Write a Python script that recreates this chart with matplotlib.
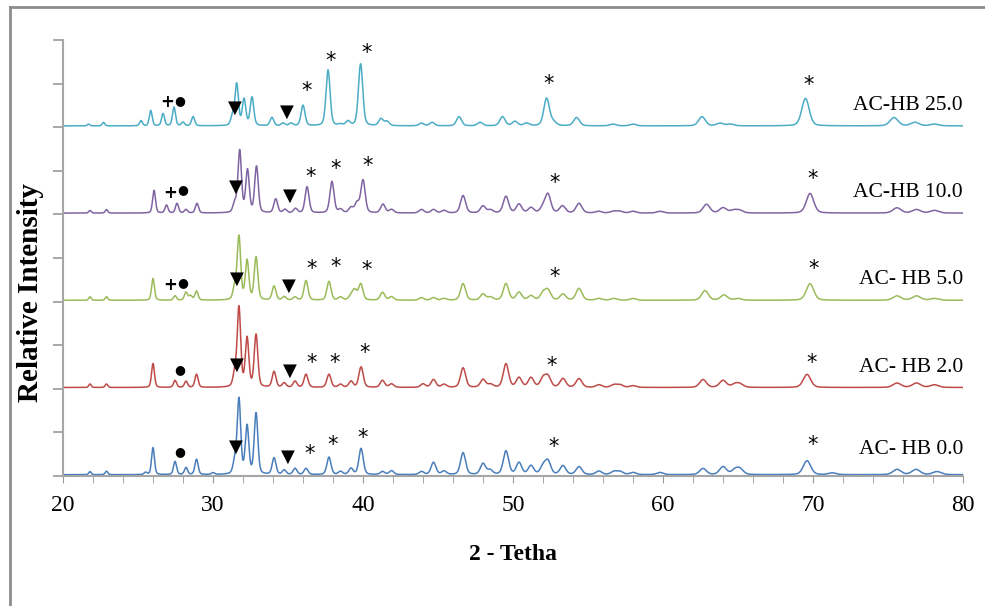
import numpy as np
import matplotlib
matplotlib.use("Agg")
import matplotlib.pyplot as plt
from matplotlib.lines import Line2D

plt.rcParams['font.family'] = ['Liberation Serif', 'DejaVu Sans']

# series names, vertical offsets and colours (bottom to top)
names = ["AC- HB 0.0", "AC- HB 2.0", "AC- HB 5.0", "AC-HB 10.0", "AC-HB 25.0"]
offsets = [0.0, 2.0, 4.0, 6.0, 8.0]
colors = ["#4A7EBB", "#BE4B48", "#9BBB59", "#8064A2", "#4BACC6"]

# peak positions (2-theta) and heights
pos_00 = [21.8, 22.9, 25.5, 26.0, 27.47, 28.2, 28.9, 30.0, 31.45, 31.73, 32.27, 32.87,
          34.07, 34.75, 35.47, 36.2, 37.73, 38.5, 39.2, 39.87, 41.3, 41.9, 43.9, 44.7,
          45.4, 46.67, 48.0, 48.47, 49.53, 50.4, 51.2, 52.0, 52.33, 53.33, 54.4, 55.73,
          56.73, 57.13, 58.0, 59.8, 62.67, 64.0, 64.8, 65.13, 69.6, 71.3, 75.6, 76.87, 78.27]
int_00 = [0.07, 0.08, 0.05, 0.62, 0.3, 0.16, 0.35, 0.04, 0.28, 1.72, 1.1, 1.4,
          0.38, 0.1, 0.14, 0.14, 0.4, 0.07, 0.14, 0.6, 0.07, 0.09, 0.07, 0.28,
          0.08, 0.5, 0.25, 0.1, 0.54, 0.27, 0.2, 0.18, 0.3, 0.2, 0.18, 0.08,
          0.07, 0.07, 0.05, 0.05, 0.14, 0.18, 0.1, 0.12, 0.32, 0.04, 0.12, 0.12, 0.07]

pos_02 = [21.8, 22.9, 26.0, 27.47, 28.2, 28.9, 31.45, 31.73, 32.27, 32.87, 34.07, 34.75,
          35.47, 36.2, 37.73, 38.5, 39.2, 39.87, 41.3, 41.9, 44.0, 44.7, 45.4, 46.67,
          48.0, 48.5, 49.53, 50.4, 51.2, 52.0, 52.33, 53.33, 54.4, 55.73, 56.73, 57.13,
          58.0, 62.67, 64.0, 64.8, 65.13, 69.6, 75.6, 76.9, 78.1]
int_02 = [0.08, 0.08, 0.55, 0.16, 0.14, 0.3, 0.3, 1.82, 1.12, 1.2, 0.36, 0.1,
          0.14, 0.3, 0.3, 0.07, 0.14, 0.47, 0.16, 0.08, 0.08, 0.18, 0.07, 0.45,
          0.18, 0.07, 0.54, 0.22, 0.22, 0.2, 0.24, 0.2, 0.2, 0.06, 0.06, 0.06,
          0.04, 0.18, 0.16, 0.07, 0.07, 0.3, 0.1, 0.1, 0.06]

pos_05 = [21.8, 22.9, 26.0, 27.47, 28.2, 28.5, 28.9, 31.45, 31.73, 32.27, 32.87, 34.07,
          34.75, 35.47, 36.2, 37.73, 38.5, 39.2, 39.45, 39.85, 41.3, 41.9, 43.9, 44.7,
          45.4, 46.67, 48.0, 48.5, 49.53, 50.4, 51.2, 52.0, 52.33, 53.33, 54.4, 55.73,
          56.73, 58.0, 62.8, 64.07, 65.0, 69.8, 75.6, 76.9, 78.1]
int_05 = [0.08, 0.08, 0.5, 0.1, 0.18, 0.1, 0.21, 0.28, 1.45, 0.9, 0.98, 0.32,
          0.08, 0.07, 0.45, 0.43, 0.07, 0.1, 0.22, 0.37, 0.18, 0.08, 0.06, 0.06,
          0.04, 0.38, 0.14, 0.07, 0.38, 0.18, 0.1, 0.16, 0.22, 0.14, 0.27, 0.04,
          0.04, 0.04, 0.22, 0.12, 0.04, 0.38, 0.1, 0.1, 0.04]

pos_10 = [21.8, 22.9, 26.07, 26.9, 27.6, 28.2, 28.93, 31.45, 31.78, 32.3, 32.9, 34.18,
          34.8, 35.5, 36.27, 37.93, 38.5, 39.2, 39.6, 40.0, 41.33, 41.9, 43.9, 44.7,
          45.4, 46.67, 48.0, 48.5, 49.53, 50.4, 51.2, 52.0, 52.33, 53.3, 54.4, 55.7,
          56.7, 57.1, 58.0, 59.8, 62.9, 64.0, 64.7, 65.1, 69.8, 75.6, 76.9, 78.1]
int_10 = [0.06, 0.08, 0.52, 0.18, 0.22, 0.08, 0.22, 0.22, 1.42, 0.97, 1.06, 0.32,
          0.08, 0.1, 0.6, 0.72, 0.08, 0.12, 0.22, 0.75, 0.2, 0.08, 0.08, 0.08,
          0.06, 0.4, 0.16, 0.07, 0.38, 0.2, 0.12, 0.12, 0.42, 0.16, 0.22, 0.04,
          0.04, 0.04, 0.04, 0.04, 0.2, 0.12, 0.06, 0.06, 0.45, 0.12, 0.08, 0.06]

pos_25 = [21.7, 22.7, 25.2, 25.85, 26.67, 27.4, 28.0, 28.67, 31.3, 31.58, 32.07, 32.6,
          33.93, 34.67, 35.2, 36.0, 37.67, 38.5, 39.0, 39.84, 41.2, 41.6, 43.9, 44.6,
          46.4, 47.8, 49.3, 50.13, 50.9, 52.24, 52.7, 54.24, 56.67, 58.0, 62.6, 63.8,
          64.5, 69.5, 75.4, 76.8, 78.1]
int_25 = [0.04, 0.08, 0.12, 0.35, 0.28, 0.43, 0.08, 0.21, 0.21, 0.95, 0.6, 0.65,
          0.19, 0.06, 0.06, 0.47, 1.28, 0.03, 0.1, 1.42, 0.16, 0.1, 0.06, 0.08,
          0.21, 0.08, 0.21, 0.1, 0.06, 0.63, 0.08, 0.19, 0.04, 0.04, 0.21, 0.06,
          0.04, 0.63, 0.19, 0.08, 0.04]

positions = [pos_00, pos_02, pos_05, pos_10, pos_25]
intensities = [int_00, int_02, int_05, int_10, int_25]

# phase markers: (symbol, 2-theta, height) for each trace
marks_00 = [("●", 27.8, 0.57), ("▼", 31.53, 0.67), ("▼", 35.0, 0.44), ("*", 36.47, 0.5),
            ("*", 38.0, 0.71), ("*", 40.0, 0.87), ("*", 52.73, 0.67), ("*", 70.0, 0.71)]
marks_02 = [("●", 27.8, 2.43), ("▼", 31.6, 2.55), ("▼", 35.13, 2.41), ("*", 36.6, 2.59),
            ("*", 38.13, 2.59), ("*", 40.13, 2.82), ("*", 52.6, 2.52), ("*", 69.93, 2.59)]
marks_05 = [("+", 27.15, 4.38), ("●", 27.95, 4.43), ("▼", 31.6, 4.52), ("▼", 35.07, 4.36),
            ("*", 36.6, 4.75), ("*", 38.2, 4.79), ("*", 40.27, 4.72), ("*", 52.8, 4.56),
            ("*", 70.07, 4.75)]
marks_10 = [("+", 27.15, 6.49), ("●", 27.95, 6.56), ("▼", 31.53, 6.63), ("▼", 35.13, 6.42),
            ("*", 36.53, 6.86), ("*", 38.2, 7.04), ("*", 40.33, 7.11), ("*", 52.8, 6.72),
            ("*", 70.0, 6.81)]
marks_25 = [("+", 26.95, 8.58), ("●", 27.75, 8.62), ("▼", 31.47, 8.44), ("▼", 34.93, 8.35),
            ("*", 36.27, 8.83), ("*", 37.87, 9.52), ("*", 40.27, 9.7), ("*", 52.4, 8.99),
            ("*", 69.73, 8.97)]
all_marks = [marks_00, marks_02, marks_05, marks_10, marks_25]

label_y = [0.6, 2.5, 4.5, 6.5, 8.5]


def pattern(x, pos, heights):
    # sum of peaks (gauss + lorentz mix), broader at higher angle
    y = np.full_like(x, 0.03)
    for p, h in zip(pos, heights):
        s = 0.075 + 0.0035 * (p - 20)
        g = np.exp(-0.5 * ((x - p) / s) ** 2)
        lz = 1.0 / (1.0 + ((x - p) / (1.2 * s)) ** 2)
        y += h * (0.7 * g + 0.3 * lz)
    return y


fig = plt.figure(figsize=(9.85, 6.06), dpi=100)
ax = fig.add_axes([63 / 985, 1 - 476 / 606, 900 / 985, 436 / 606])

x = np.arange(20, 80.001, 0.01)
for pos, hts, off, col, name, ly, marks in zip(positions, intensities, offsets,
                                               colors, names, label_y, all_marks):
    ax.plot(x, pattern(x, pos, hts) + off, color=col, lw=1.1)
    ax.text(80, ly, name, ha='right', va='center', fontsize=15.5)
    for sym, mx, my in marks:
        if sym == "*":
            ax.text(mx, my, sym, ha='center', va='center', fontsize=15,
                    family=['DejaVu Sans'])
        elif sym == "▼":
            ax.text(mx, my, sym, ha='center', va='center', fontsize=13,
                    family=['DejaVu Sans'])
        elif sym == "●":
            ax.text(mx, my, sym, ha='center', va='center', fontsize=9,
                    family=['DejaVu Sans'])
        else:
            ax.text(mx, my, sym, ha='center', va='center', fontsize=12,
                    fontweight='bold', family=['DejaVu Sans'])

ax.set_xlim(20, 80)
ax.set_ylim(0, 10)
ax.set_xticks(np.arange(20, 81, 10))
ax.set_xticks(np.arange(20, 81, 2), minor=True)
ax.set_yticks(np.arange(0, 11, 1))
ax.set_yticklabels([])
ax.tick_params(axis='x', which='both', direction='out', length=5, color='#999999',
               labelsize=17, pad=9)
ax.tick_params(axis='y', direction='out', length=7, color='#999999', width=1.2)
for side in ['top', 'right']:
    ax.spines[side].set_visible(False)
for side in ['left', 'bottom']:
    ax.spines[side].set_color('#A6A6A6')
    ax.spines[side].set_linewidth(1.5)

ax.set_xlabel('2 - Tetha', fontsize=17, fontweight='bold', labelpad=20)
fig.text(0.031, 0.518, 'Relative Intensity', rotation=90, ha='center', va='center',
         fontsize=21, fontweight='bold')

# frame lines of the original picture
fig.add_artist(Line2D([10 / 985, 10 / 985], [0, 1 - 7 / 606], color='#8C8C8C', lw=2))
fig.add_artist(Line2D([10 / 985, 1], [1 - 7 / 606, 1 - 7 / 606], color='#8C8C8C', lw=2))

fig.savefig('out.png', dpi=100)
